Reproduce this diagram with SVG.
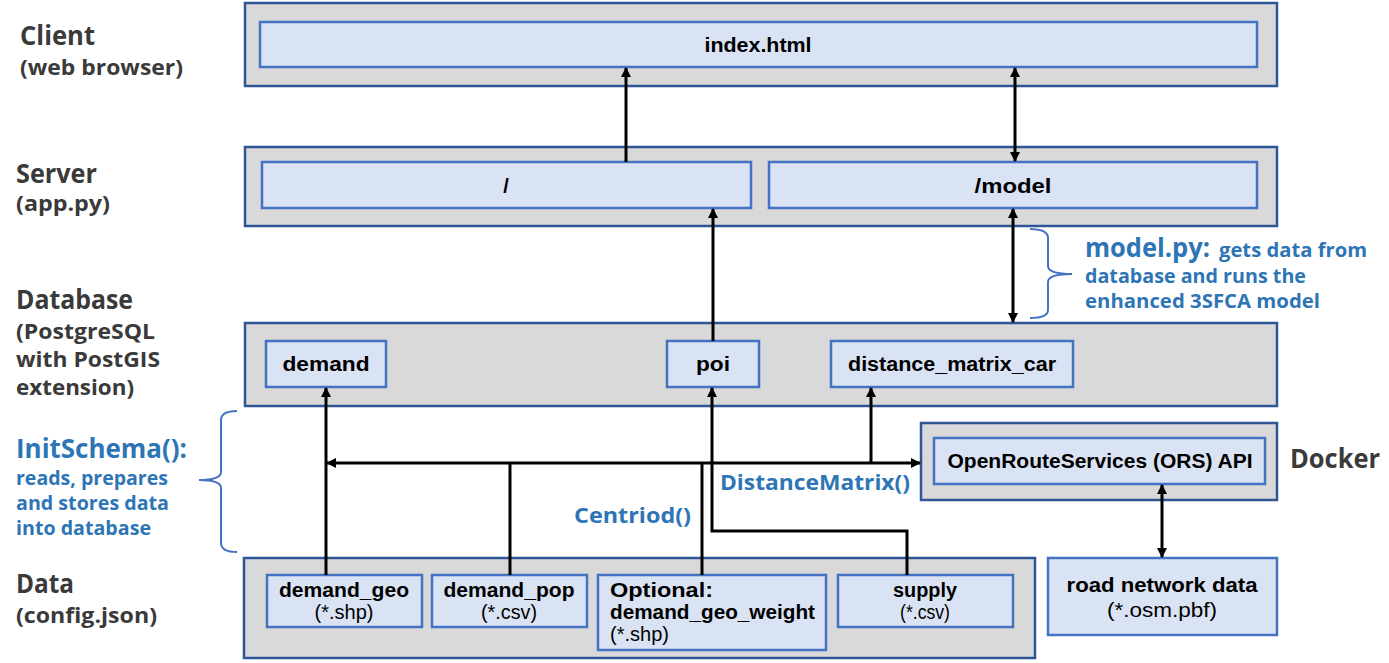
<svg xmlns="http://www.w3.org/2000/svg" width="1389" height="663" viewBox="0 0 1389 663">
<style>
.outer{fill:#d9d9d9;stroke:#2f5597;stroke-width:2.5}
.inner{fill:#dae3f3;stroke:#4472c4;stroke-width:2.5}
.lbl{font-family:"Open Sans","Liberation Sans",sans-serif;font-weight:bold;fill:#3a3a3a}
.blu{font-family:"Open Sans","Liberation Sans",sans-serif;font-weight:bold;fill:#2e75b6}
.bt{font-family:"Liberation Sans",Arial,sans-serif;font-weight:bold;font-size:20px;fill:#000}
.nt{font-family:"Liberation Sans",Arial,sans-serif;font-size:20px;fill:#000}
.c{text-anchor:middle}
.ln{stroke:#000;stroke-width:3;fill:none}
.br{stroke:#4472c4;stroke-width:2;fill:none}
</style>
<defs>
<marker id="ah" markerUnits="userSpaceOnUse" markerWidth="10" markerHeight="10" refX="9" refY="5" orient="auto-start-reverse" viewBox="0 0 10 10">
<path d="M0,0 L10,5 L0,10 z" fill="#000"/>
</marker>
</defs>
<rect width="1389" height="663" fill="#fff"/>

<g id="layer-labels">
<text class="lbl" x="20" y="45" font-size="26" textLength="75" lengthAdjust="spacingAndGlyphs">Client</text>
<text class="lbl" x="20" y="75" font-size="21" textLength="163" lengthAdjust="spacingAndGlyphs">(web browser)</text>
<text class="lbl" x="16" y="183" font-size="26" textLength="81" lengthAdjust="spacingAndGlyphs">Server</text>
<text class="lbl" x="16" y="211" font-size="21" textLength="94" lengthAdjust="spacingAndGlyphs">(app.py)</text>
<text class="lbl" x="16" y="309" font-size="26" textLength="117" lengthAdjust="spacingAndGlyphs">Database</text>
<text class="lbl" x="16" y="339" font-size="21" textLength="139" lengthAdjust="spacingAndGlyphs">(PostgreSQL</text>
<text class="lbl" x="16" y="367" font-size="21" textLength="144" lengthAdjust="spacingAndGlyphs">with PostGIS</text>
<text class="lbl" x="16" y="395" font-size="21" textLength="118" lengthAdjust="spacingAndGlyphs">extension)</text>
<text class="lbl" x="16" y="593" font-size="26" textLength="58" lengthAdjust="spacingAndGlyphs">Data</text>
<text class="lbl" x="16" y="623" font-size="21" textLength="141" lengthAdjust="spacingAndGlyphs">(config.json)</text>
<text class="lbl" x="1290" y="468" font-size="26" textLength="90" lengthAdjust="spacingAndGlyphs">Docker</text>
</g>

<g id="initschema-note">
<text class="blu" x="16" y="458" font-size="26" textLength="171" lengthAdjust="spacingAndGlyphs">InitSchema():</text>
<text class="blu" x="16" y="485" font-size="19" textLength="152" lengthAdjust="spacingAndGlyphs">reads, prepares</text>
<text class="blu" x="16" y="510" font-size="19" textLength="153" lengthAdjust="spacingAndGlyphs">and stores data</text>
<text class="blu" x="16" y="535" font-size="19" textLength="135" lengthAdjust="spacingAndGlyphs">into database</text>
<path class="br" d="M237,411 Q221,411 221,420 L221,472 Q221,480 199,480 Q221,480 221,488 L221,543 Q221,552 237,552"/>
</g>

<g id="model-note">
<text class="blu" x="1085" y="257" font-size="27" textLength="125" lengthAdjust="spacingAndGlyphs">model.py:</text>
<text class="blu" x="1219" y="257" font-size="19" textLength="148" lengthAdjust="spacingAndGlyphs">gets data from</text>
<text class="blu" x="1085" y="283" font-size="19" textLength="221" lengthAdjust="spacingAndGlyphs">database and runs the</text>
<text class="blu" x="1085" y="308" font-size="19" textLength="235" lengthAdjust="spacingAndGlyphs">enhanced 3SFCA model</text>
<path class="br" d="M1030,229 Q1048,229 1048,238 L1048,266 Q1048,274 1072,274 Q1048,274 1048,282 L1048,310 Q1048,318 1030,318"/>
</g>

<g id="client">
<rect class="outer" x="245" y="3" width="1032" height="83"/>
<rect class="inner" x="260" y="22" width="997" height="45"/>
<text class="bt c" x="758" y="52" textLength="107" lengthAdjust="spacingAndGlyphs">index.html</text>
</g>

<g id="server">
<rect class="outer" x="245" y="147" width="1032" height="79"/>
<rect class="inner" id="route-root" x="262" y="162" width="489" height="46"/>
<text class="bt c" x="506" y="193" font-size="22">/</text>
<rect class="inner" id="route-model" x="769" y="162" width="488" height="46"/>
<text class="bt c" x="1013" y="193" textLength="77" lengthAdjust="spacingAndGlyphs">/model</text>
</g>

<g id="database">
<rect class="outer" x="245" y="323" width="1032" height="83"/>
<rect class="inner" x="266" y="341" width="120" height="46"/>
<text class="bt c" x="326" y="371" textLength="87" lengthAdjust="spacingAndGlyphs">demand</text>
<rect class="inner" x="667" y="341" width="92" height="46"/>
<text class="bt c" x="713" y="371" textLength="34" lengthAdjust="spacingAndGlyphs">poi</text>
<rect class="inner" x="831" y="341" width="242" height="46"/>
<text class="bt c" x="952" y="371" textLength="208" lengthAdjust="spacingAndGlyphs">distance_matrix_car</text>
</g>

<g id="docker">
<rect class="outer" x="921" y="423" width="356" height="77"/>
<rect class="inner" x="934" y="438" width="331" height="46"/>
<text class="bt c" x="1100" y="468" textLength="305" lengthAdjust="spacingAndGlyphs">OpenRouteServices (ORS) API</text>
</g>

<g id="road-network">
<rect class="inner" x="1048" y="558" width="229" height="77"/>
<text class="bt c" x="1162" y="592" textLength="191" lengthAdjust="spacingAndGlyphs">road network data</text>
<text class="nt c" x="1162" y="617" textLength="110" lengthAdjust="spacingAndGlyphs">(*.osm.pbf)</text>
</g>

<g id="data">
<rect class="outer" x="244" y="558" width="791" height="100"/>
<rect class="inner" x="267" y="575" width="155" height="52"/>
<text class="bt c" x="344" y="597" textLength="130" lengthAdjust="spacingAndGlyphs">demand_geo</text>
<text class="nt c" x="344" y="619" textLength="59" lengthAdjust="spacingAndGlyphs">(*.shp)</text>
<rect class="inner" x="432" y="575" width="155" height="52"/>
<text class="bt c" x="509" y="597" textLength="131" lengthAdjust="spacingAndGlyphs">demand_pop</text>
<text class="nt c" x="509" y="619" textLength="56" lengthAdjust="spacingAndGlyphs">(*.csv)</text>
<rect class="inner" x="598" y="575" width="228" height="75"/>
<text class="bt" x="610" y="597" textLength="103" lengthAdjust="spacingAndGlyphs">Optional:</text>
<text class="bt" x="610" y="619" textLength="205" lengthAdjust="spacingAndGlyphs">demand_geo_weight</text>
<text class="nt" x="610" y="641" textLength="59" lengthAdjust="spacingAndGlyphs">(*.shp)</text>
<rect class="inner" x="838" y="575" width="175" height="52"/>
<text class="bt c" x="925" y="597" textLength="64" lengthAdjust="spacingAndGlyphs">supply</text>
<text class="nt c" x="925" y="619" textLength="50" lengthAdjust="spacingAndGlyphs">(*.csv)</text>
</g>

<g id="connectors">
<line class="ln" x1="626" y1="162" x2="626" y2="68" marker-end="url(#ah)"/>
<line class="ln" x1="1015" y1="68" x2="1015" y2="161" marker-start="url(#ah)" marker-end="url(#ah)"/>
<line class="ln" x1="713" y1="341" x2="713" y2="209" marker-end="url(#ah)"/>
<line class="ln" x1="1013" y1="209" x2="1013" y2="322" marker-start="url(#ah)" marker-end="url(#ah)"/>
<line class="ln" x1="326" y1="575" x2="326" y2="388" marker-end="url(#ah)"/>
<line class="ln" x1="327" y1="463" x2="920" y2="463" marker-start="url(#ah)" marker-end="url(#ah)"/>
<line class="ln" x1="510" y1="463" x2="510" y2="575"/>
<line class="ln" x1="702" y1="463" x2="702" y2="575"/>
<line class="ln" x1="871" y1="463" x2="871" y2="388" marker-end="url(#ah)"/>
<path class="ln" d="M907,575 V531 H712 V388" marker-end="url(#ah)"/>
<line class="ln" x1="1162" y1="485" x2="1162" y2="557" marker-start="url(#ah)" marker-end="url(#ah)"/>
<text class="blu" x="720" y="490" font-size="22" textLength="190" lengthAdjust="spacingAndGlyphs">DistanceMatrix()</text>
<text class="blu" x="574" y="523" font-size="22" textLength="117" lengthAdjust="spacingAndGlyphs">Centriod()</text>
</g>
</svg>
